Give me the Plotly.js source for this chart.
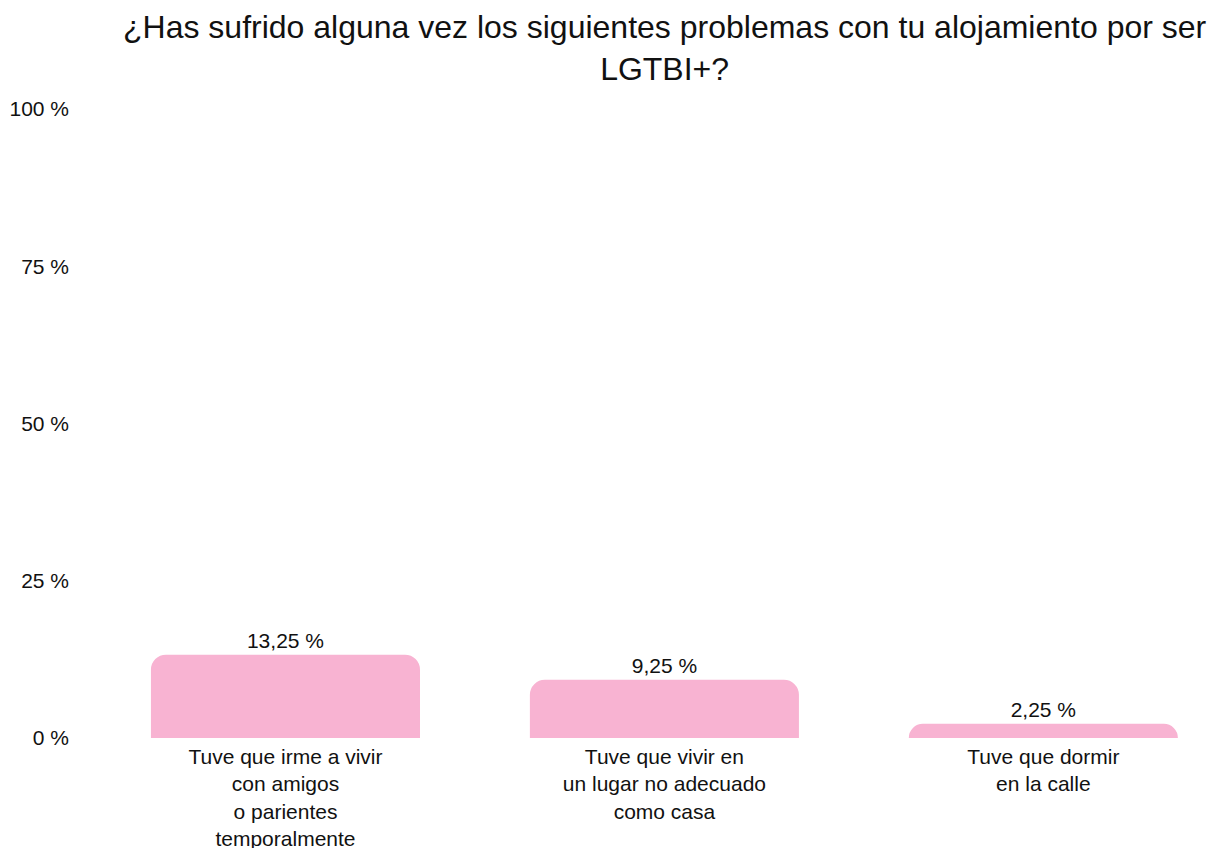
<!DOCTYPE html>
<html>
<head>
<meta charset="utf-8">
<script src="https://cdn.plot.ly/plotly-3.0.1.min.js"></script>
<style>html,body{margin:0;padding:0;background:#fff;}#chart{width:1215px;height:848px;}</style>
</head>
<body>
<div id="chart"></div>
<script>
const categories = [
  "Tuve que irme a vivir<br>con amigos<br>o parientes<br>temporalmente",
  "Tuve que vivir en<br>un lugar no adecuado<br>como casa",
  "Tuve que dormir<br>en la calle"
];
const values = [13.25, 9.25, 2.25];
const yTickVals = [0, 25, 50, 75, 100];
const yTickLabels = ["0 %", "25 %", "50 %", "75 %", "100 %"];
const titleText = "¿Has sufrido alguna vez los siguientes problemas con tu alojamiento por ser<br>LGTBI+?";

const FONT = "Liberation Sans, Arial, Helvetica, sans-serif";

Plotly.newPlot("chart", [{
  type: "bar",
  x: [0, 1, 2],
  y: values,
  marker: { color: "#F8B3D2", line: { width: 0 } },
  texttemplate: "%{y:.2f} %",
  textposition: "outside",
  textfont: { family: FONT, size: 21, color: "#111" },
  cliponaxis: false,
  hoverinfo: "none"
}], {
  width: 1215,
  height: 848,
  separators: ",.",
  font: { family: FONT, size: 21, color: "#111" },
  paper_bgcolor: "#fff",
  plot_bgcolor: "#fff",
  margin: { l: 96, r: 0, t: 109, b: 110, pad: 0 },
  bargap: 0.29,
  barcornerradius: 15,
  showlegend: false,
  title: {
    text: titleText,
    font: { family: FONT, size: 32, color: "#111" },
    xref: "container", x: 0.547, xanchor: "center",
    yref: "container", y: 0.955, yanchor: "top"
  },
  xaxis: {
    range: [-0.5, 2.453],
    tickvals: [0, 1, 2],
    ticktext: categories,
    showgrid: false, zeroline: false, showline: false, ticks: "",
    ticklabelstandoff: 4,
    tickfont: { family: FONT, size: 21, color: "#111" },
    fixedrange: true
  },
  yaxis: {
    range: [0, 100],
    tickvals: yTickVals,
    ticktext: yTickLabels,
    showgrid: false, zeroline: false, showline: false, ticks: "",
    ticklabelstandoff: 26,
    tickfont: { family: FONT, size: 21, color: "#111" },
    fixedrange: true
  }
}, { displayModeBar: false, staticPlot: true });
</script>
</body>
</html>
